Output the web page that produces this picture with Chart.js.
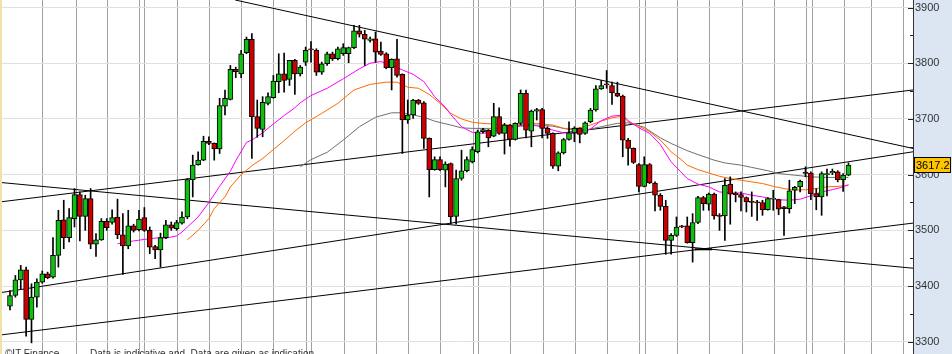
<!DOCTYPE html>
<html>
<head>
<meta charset="utf-8">
<script src="https://cdn.jsdelivr.net/npm/chart.js@4.4.1/dist/chart.umd.min.js"></script>
<style>
html, body { margin: 0; padding: 0; background: #fff; }
#wrap { position: relative; width: 952px; height: 354px; overflow: hidden; }
.note { position: absolute; top: 348px; font: 10px "Liberation Sans", Arial, sans-serif; color: #333; white-space: pre; }
</style>
</head>
<body>
<div id="wrap">
  <canvas id="chart" width="952" height="354"></canvas>
  <div class="note" style="left:5px">©IT Finance</div>
  <div class="note" style="left:90px">Data is indicative and  Data are given as indication</div>
</div>
<script>
// daily candles
const open = [3364,3383,3411,3429,3340,3380,3407,3422,3416,3455,3519,3487,3521,3564,3525,3557,3475,3483,3516,3514,
  3524,3492,3472,3508,3501,3523,3500,3471,3465,3487,3510,3503,3513,3524,3591,3618,3626,3660,3656,3646,
  3723,3735,3789,3781,3819,3843,3704,3681,3728,3738,3767,3781,3771,3805,3781,3802,3826,3823,3784,3799,
  3817,3808,3817,3817,3828,3858,3852,3841,3844,3822,3817,3792,3808,3780,3698,3707,3734,3729,3665,3609,
  3627,3608,3620,3525,3593,3607,3623,3641,3677,3680,3669,3704,3674,3689,3663,3692,3746,3678,3714,3717,
  3683,3674,3615,3639,3663,3675,3683,3674,3695,3716,3754,3763,3760,3746,3741,3662,3647,3618,3579,3618,
  3585,3563,3543,3482,3491,3508,3508,3478,3514,3559,3547,3565,3527,3526,3583,3567,3564,3559,3552,3551,
  3550,3537,3556,3555,3542,3539,3572,3578,3604,3603,3566,3560,3600,3603,3605,3591,3599];
const high = [3392,3419,3437,3434,3404,3413,3427,3425,3487,3536,3554,3539,3575,3569,3563,3575,3494,3521,3521,3537,
  3556,3530,3536,3511,3536,3541,3506,3473,3495,3518,3515,3518,3533,3593,3635,3641,3669,3668,3657,3737,
  3752,3796,3793,3823,3847,3853,3734,3740,3747,3778,3817,3818,3805,3807,3796,3829,3839,3826,3802,3820,
  3820,3829,3835,3829,3868,3868,3859,3847,3856,3838,3819,3808,3843,3781,3734,3735,3735,3731,3666,3632,
  3632,3623,3621,3608,3644,3632,3650,3680,3683,3681,3728,3720,3692,3690,3693,3752,3752,3716,3719,3719,
  3686,3675,3641,3665,3695,3686,3684,3695,3719,3760,3769,3787,3766,3766,3743,3665,3648,3620,3632,3620,
  3587,3566,3554,3494,3524,3509,3524,3530,3561,3561,3567,3567,3530,3593,3596,3569,3569,3560,3569,3554,
  3554,3559,3572,3556,3543,3590,3579,3590,3614,3605,3575,3605,3610,3610,3607,3602,3621];
const low = [3357,3380,3395,3310,3298,3362,3405,3413,3414,3434,3467,3479,3506,3481,3500,3467,3453,3482,3500,3511,
  3485,3421,3467,3497,3499,3498,3458,3449,3434,3485,3500,3500,3511,3521,3560,3617,3625,3654,3626,3638,
  3707,3734,3774,3774,3817,3629,3667,3668,3725,3737,3747,3748,3760,3744,3777,3796,3802,3778,3780,3796,
  3805,3806,3814,3801,3826,3847,3796,3838,3802,3814,3790,3752,3775,3638,3692,3701,3726,3647,3560,3608,
  3607,3578,3512,3511,3590,3605,3621,3639,3675,3650,3668,3672,3637,3651,3662,3689,3666,3650,3698,3666,
  3665,3611,3607,3637,3662,3659,3657,3672,3693,3714,3753,3755,3726,3740,3632,3617,3620,3569,3578,3584,
  3535,3536,3457,3457,3489,3505,3477,3443,3512,3536,3536,3520,3500,3482,3511,3551,3535,3533,3525,3518,
  3527,3536,3536,3528,3491,3531,3548,3569,3596,3555,3537,3527,3562,3600,3587,3570,3598];
const close = [3383,3411,3429,3340,3380,3407,3422,3415,3455,3518,3487,3523,3564,3525,3557,3475,3483,3516,3505,3523,
  3492,3472,3508,3500,3520,3500,3470,3465,3487,3510,3504,3514,3524,3591,3617,3626,3660,3656,3646,3724,
  3737,3789,3785,3817,3843,3704,3683,3730,3740,3768,3781,3769,3805,3781,3793,3823,3824,3784,3799,3817,
  3808,3826,3828,3828,3858,3852,3843,3844,3820,3816,3792,3807,3778,3698,3707,3734,3728,3665,3609,3627,
  3609,3619,3524,3593,3607,3627,3645,3677,3681,3666,3704,3674,3689,3663,3692,3746,3680,3714,3717,3683,
  3674,3615,3639,3663,3675,3683,3672,3693,3716,3754,3760,3761,3747,3741,3662,3647,3622,3579,3618,3585,
  3563,3543,3482,3491,3506,3506,3478,3514,3559,3548,3565,3526,3525,3581,3565,3564,3559,3551,3550,3549,
  3537,3557,3558,3538,3539,3571,3577,3588,3602,3566,3560,3602,3602,3606,3591,3599,3617.2];

// moving averages, [day, value]
const maFast = [[21,3476],[24,3481],[27,3485],[29,3487],[30,3486],[32,3490],[33,3497],[34,3506],[36,3524],[38,3550],
  [40,3579],[42,3606],[43,3625],[45,3658],[46,3662],[48,3675],[50,3691],[52,3706],[54,3720],[55,3729],[57,3742],
  [60,3755],[63,3772],[66,3790],[68,3800],[70,3803],[72,3797],[74,3788],[76,3780],[78,3767],[80,3740],[82,3721],
  [83,3708],[85,3686],[87,3676],[89,3674],[91,3678],[93,3683],[95,3687],[98,3689],[100,3686],[102,3680],[104,3675],
  [106,3674],[107,3675],[109,3682],[111,3697],[113,3705],[115,3707],[116,3697],[118,3684],[120,3674],[122,3654],
  [124,3623],[126,3603],[127,3593],[129,3583],[131,3578],[133,3569],[135,3567],[137,3567],[139,3563],[141,3560],
  [142,3558],[144,3555],[146,3554],[148,3556],[150,3562],[152,3569],[154,3573],[156,3578],[157,3582]];
const maMid = [[34,3483],[36,3500],[38,3521],[39,3539],[41,3560],[42,3578],[44,3600],[46,3616],[48,3629],[50,3645],
  [52,3661],[54,3678],[56,3693],[59,3710],[62,3728],[65,3752],[68,3762],[71,3766],[73,3766],[75,3757],[77,3755],
  [79,3744],[81,3728],[83,3710],[85,3700],[87,3694],[89,3692],[92,3690],[94,3689],[97,3690],[99,3692],[102,3689],
  [104,3683],[106,3683],[107,3684],[109,3689],[111,3696],[113,3702],[115,3705],[116,3695],[118,3687],[120,3677],
  [122,3662],[124,3641],[126,3626],[127,3617],[129,3609],[131,3603],[133,3597],[135,3593],[137,3590],[139,3587],
  [141,3584],[143,3579],[145,3575],[147,3572],[149,3573],[151,3575],[153,3578],[155,3579],[157,3581]];
const maSlow = [[55,3614],[57,3627],[60,3640],[63,3662],[66,3686],[69,3703],[72,3711],[74,3711],[76,3707],[78,3703],
  [80,3696],[83,3689],[85,3684],[87,3683],[90,3683],[93,3684],[96,3687],[99,3689],[102,3687],[105,3681],[108,3680],
  [111,3686],[114,3692],[116,3693],[119,3685],[122,3666],[124,3656],[127,3643],[129,3636],[132,3626],[134,3621],
  [137,3617],[139,3613],[142,3607],[144,3602],[147,3599],[150,3596],[153,3595],[157,3595]];

// hand drawn trend lines, [day, price] end points
const trendLines = [
  [[42.9,3913.5],[169,3647]],
  [[-0.86,3586],[169,3432]],
  [[-0.86,3551],[169,3752]],
  [[-0.86,3388],[169,3641]],
  [[-0.86,3312],[169,3513]]
];
const supportStub = [[128.4,3466],[131.6,3466]];

// week / month separators (day positions)
const weekLines = [7.08,13.28,19.18,25.06,25.99,32.2,38.08,44.1,50.1,56.2,57.13,63.2,69.2,75.2,81.1,87.2,88.1,
  94.15,100.2,106.2,112.1,118.2,119.2,125.15,131.1,137.3,143.2,149.2,150.3,156.2,161.3,167.2];

const days = close.map((_, i) => i + 1);
const up = days.map((_, i) => close[i] >= open[i]);
const pts = arr => arr.map(([x, y]) => ({x, y}));

const decor = {
  id: 'decor',
  beforeDraw(chart) {
    const {ctx, chartArea: a, width, height} = chart;
    ctx.save();
    ctx.fillStyle = '#ffffff';
    ctx.fillRect(0, 0, width, height);
    ctx.fillStyle = '#dce6f2';
    ctx.fillRect(a.right, 0, width - a.right, height);
    ctx.restore();
  },
  afterDraw(chart) {
    const {ctx, chartArea: a, width, height} = chart;
    const ys = chart.scales.y;
    ctx.save();
    // tick marks on the plot side of the axis
    ctx.strokeStyle = '#222';
    ctx.lineWidth = 1;
    ys.ticks.forEach(t => {
      const y = Math.round(ys.getPixelForValue(t.value)) + 0.5;
      const len = t.value % 100 === 0 ? 5 : 3;
      ctx.beginPath();
      ctx.moveTo(a.right - len, y);
      ctx.lineTo(a.right, y);
      ctx.stroke();
    });
    // left strip
    ctx.fillStyle = '#efe3a6';
    ctx.fillRect(0, 0, 2, height);
    // last price box
    const last = close[close.length - 1];
    const py = Math.round(ys.getPixelForValue(last));
    ctx.fillStyle = '#ffc400';
    ctx.fillRect(a.right + 1, py - 7, width - a.right - 2, 14);
    ctx.strokeStyle = '#000';
    ctx.strokeRect(a.right + 1.5, py - 7.5, width - a.right - 3, 15);
    ctx.fillStyle = '#000';
    ctx.font = '11px "Liberation Sans", Arial, sans-serif';
    ctx.textBaseline = 'middle';
    ctx.fillText(last.toFixed(1), a.right + 3, py + 0.5);
    ctx.restore();
  }
};

const lineDs = (data, color, width, order) => ({
  type: 'line', data: pts(data), borderColor: color, borderWidth: width,
  pointRadius: 0, tension: 0, fill: false, order
});

new Chart(document.getElementById('chart'), {
  type: 'bar',
  data: {
    datasets: [
      {
        type: 'bar',
        data: days.map((d, i) => ({x: d, y: [open[i], close[i]]})),
        backgroundColor: up.map(u => u ? '#10c010' : '#cc0000'),
        borderColor: '#000',
        borderWidth: 1,
        borderSkipped: false,
        barThickness: 5,
        grouped: false,
        order: 0
      },
      {
        type: 'bar',
        data: days.map((d, i) => ({x: d, y: [low[i], high[i]]})),
        backgroundColor: '#000',
        borderWidth: 0,
        barThickness: 1,
        grouped: false,
        order: 1
      },
      lineDs(maFast, '#ff00ff', 1, 2),
      lineDs(maMid, '#ff6a00', 1, 2),
      lineDs(maSlow, '#707070', 1, 2),
      ...trendLines.map(l => lineDs(l, '#000', 1, 3)),
      lineDs(supportStub, '#000', 2, 3)
    ]
  },
  options: {
    responsive: false,
    animation: false,
    layout: {padding: 0},
    plugins: {legend: {display: false}, tooltip: {enabled: false}},
    scales: {
      x: {
        type: 'linear',
        min: -0.86,
        max: 169,
        offset: false,
        afterBuildTicks: s => { s.ticks = weekLines.map(value => ({value})); },
        afterFit: s => { s.height = 0; s.paddingLeft = 0; s.paddingRight = 0; },
        ticks: {display: false},
        grid: {color: '#a0a0a0', lineWidth: 1, drawTicks: false, offset: false},
        border: {display: false}
      },
      y: {
        position: 'right',
        min: 3278,
        max: 3913.5,
        afterFit: s => { s.width = 39; s.paddingTop = 0; s.paddingBottom = 0; },
        ticks: {
          stepSize: 50,
          includeBounds: false,
          autoSkip: false,
          padding: 2,
          color: '#333',
          font: {family: '"Liberation Sans", Arial, sans-serif', size: 11},
          callback: v => v % 100 === 0 ? String(v) : ''
        },
        grid: {
          drawTicks: false,
          color: c => (c.tick && c.tick.value % 100 === 0) ? '#e0e0e0' : 'rgba(0,0,0,0)'
        },
        border: {display: true, color: '#333', width: 1}
      }
    }
  },
  plugins: [decor]
});
</script>
</body>
</html>
